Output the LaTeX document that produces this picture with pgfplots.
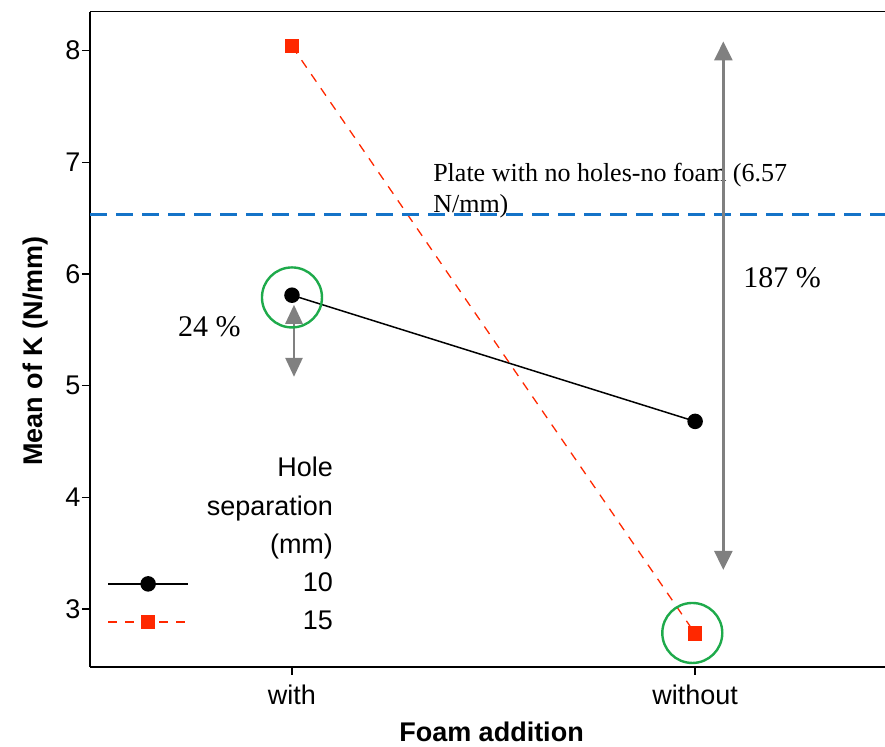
\documentclass[border=0pt]{standalone}
\usepackage{fontspec}
\setmainfont{Liberation Sans}
\newfontfamily\serifff{Liberation Serif}
\usepackage{pgfplots}
\pgfplotsset{compat=1.18}
\usetikzlibrary{arrows.meta}
\definecolor{myred}{RGB}{255,40,0}
\definecolor{mygreen}{RGB}{30,170,75}
\definecolor{myblue}{RGB}{20,115,200}
\definecolor{mygray}{RGB}{128,128,128}
\newcommand{\lstrut}{\rule[-7pt]{0pt}{28pt}}
\begin{document}
\begin{tikzpicture}
\begin{axis}[
  name=ax,
  scale only axis, width=795pt, height=655pt,
  xmin=-0.501, xmax=1.471, ymin=2.483, ymax=8.349,
  axis x line=box, axis y line=left,
  axis line style={line width=1.6pt},
  every outer y axis line/.append style={-},
  every inner y axis line/.append style={-},
  y axis line style={-},
  xtick={0,1}, xticklabels={with,without},
  ytick={3,4,5,6,7,8},
  tick style={line width=1.4pt, black},
  tick align=outside, xtick pos=left, ytick pos=left,
  major tick length=8pt,
  /pgf/number format/assume math mode=true,
  tick label style={font=\fontsize{27}{32}\selectfont, black},
  xticklabel style={yshift=-7pt},
  yticklabel style={xshift=2pt},
  xlabel={Foam addition},
  ylabel={Mean of K (N/mm)},
  every axis x label/.style={at={([xshift=4pt,yshift=-75pt]axis description cs:0.5,0)}, anchor=base, font=\bfseries\fontsize{27}{32}\selectfont},
  every axis y label/.style={at={([xshift=-47pt,yshift=-12pt]axis description cs:0,0.5)}, rotate=90, anchor=base, font=\bfseries\fontsize{27}{32}\selectfont},
  legend image code/.code={\draw[yshift=-2pt,mark repeat=2,mark phase=2,#1] plot coordinates {(0pt,0pt) (40pt,0pt) (80pt,0pt)};},
  legend cell align=right,
  legend style={draw=none, fill=none, inner sep=0pt, outer sep=0pt,
    at={(axis cs:0.1017,4.371)}, anchor=north east,
    font=\fontsize{27}{32}\selectfont, row sep=15.75pt,
    nodes={inner sep=0pt},
    /tikz/every odd column/.append style={column sep=18pt}},
]
\addlegendimage{empty legend}\addlegendentry{\lstrut Hole}
\addlegendimage{empty legend}\addlegendentry{\lstrut separation}
\addlegendimage{empty legend}\addlegendentry{\lstrut (mm)}
\addplot[black, line width=1.5pt, mark=*, mark size=7pt] coordinates {(0,5.81) (1,4.68)};
\addlegendentry{\lstrut 10}
\addplot[myred, line width=1.3pt, dash pattern=on 9pt off 8pt, mark=square*, mark size=6.5pt, mark options={solid}] coordinates {(0,8.04) (1,2.78)};
\addlegendentry{\lstrut 15}
\addplot[myblue, line width=2.7pt, dash pattern=on 17pt off 9pt, forget plot] coordinates {(-0.501,6.53) (1.471,6.53)};
\addplot[only marks, mark=o, mark size=30pt, mark options={draw=mygreen, line width=2.4pt}, forget plot] coordinates {(0,5.79) (0.993,2.785)};
\node[anchor=base west, inner sep=0pt, font=\serifff\fontsize{26}{31}\selectfont] at (axis cs:0.35,6.826) {Plate with no holes-no foam (6.57};
\node[anchor=base west, inner sep=0pt, font=\serifff\fontsize{26}{31}\selectfont] at (axis cs:0.35,6.548) {N/mm)};
\node[anchor=base west, inner sep=0pt, font=\serifff\fontsize{30}{36}\selectfont] at (axis cs:1.119,5.876) {187 \%};
\node[anchor=base west, inner sep=0pt, font=\serifff\fontsize{30}{36}\selectfont] at (axis cs:-0.283,5.437) {24 \%};
\draw[mygray, line width=2.7pt, {Triangle[width=18pt,length=19pt]}-{Triangle[width=18pt,length=19pt]}] (axis cs:1.07,3.35) -- (axis cs:1.07,8.083);
\draw[mygray, line width=2.7pt, {Triangle[width=17pt,length=19pt]}-{Triangle[width=17pt,length=19pt]}] (axis cs:0.005,5.079) -- (axis cs:0.005,5.724);
\end{axis}
\pgfresetboundingbox
\path[use as bounding box] ([xshift=-90pt,yshift=-79.3pt]ax.south west) rectangle ([yshift=11.7pt]ax.north east);
\end{tikzpicture}
\end{document}
